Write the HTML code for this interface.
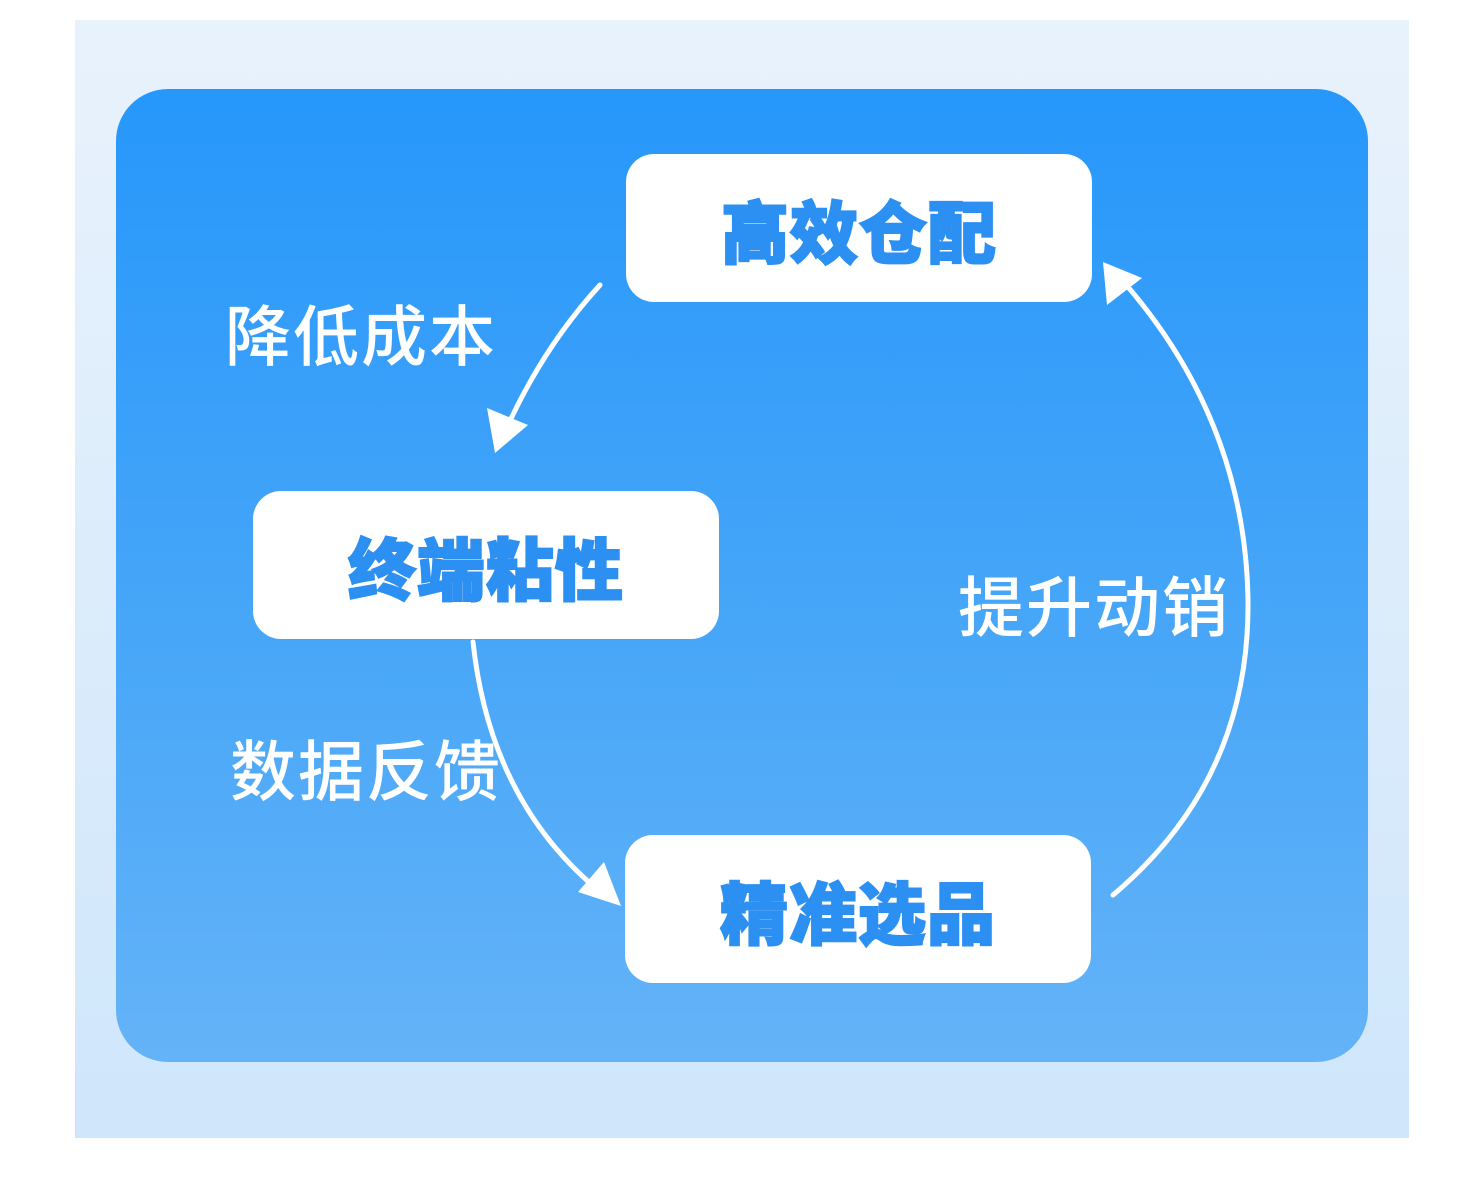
<!DOCTYPE html>
<html><head><meta charset="utf-8"><style>
html,body{margin:0;padding:0;background:#fff;}
body{width:1478px;height:1204px;position:relative;overflow:hidden;font-family:"Liberation Sans","Noto Sans CJK SC",sans-serif;}
.bg{position:absolute;left:75px;top:20px;width:1334px;height:1118px;background:linear-gradient(180deg,#e8f2fc 0%,#dcecfb 50%,#cfe6fb 100%);}
.panel{position:absolute;left:116px;top:89px;width:1252px;height:973px;border-radius:52px;background:linear-gradient(180deg,#2697fb 0%,#47a6f8 55%,#64b3f8 100%);}
.box{position:absolute;width:466px;height:148px;background:#fff;border-radius:28px;display:flex;align-items:center;justify-content:center;color:#2c8ff2;font-size:68px;font-weight:900;letter-spacing:1px;-webkit-text-stroke:2px #2c8ff2;}
.lbl{position:absolute;color:#fff;font-size:66px;letter-spacing:2px;font-weight:500;line-height:1;white-space:nowrap;}
svg{position:absolute;left:0;top:0;}
</style></head><body>
<div class="bg"></div>
<div class="panel"></div>
<svg width="1478" height="1204">
<g fill="none" stroke="#fff" stroke-width="5" stroke-linecap="round">
<path d="M600 285 Q545 345 508 425"/>
<path d="M473 642 Q490 800 598 890"/>
<path d="M1113 895 Q1250 780 1248 600 Q1245 420 1122 280"/>
</g>
<g fill="#fff">
<polygon points="495,453 487,408 528,425"/>
<polygon points="621,906 578,892 604,862"/>
<polygon points="1103,262 1142,278 1107,305"/>
</g>
</svg>
<div class="box" style="left:626px;top:154px;">高效仓配</div>
<div class="box" style="left:253px;top:491px;">终端粘性</div>
<div class="box" style="left:625px;top:835px;">精准选品</div>
<div class="lbl" style="left:225px;top:304px;">降低成本</div>
<div class="lbl" style="left:958px;top:575px;">提升动销</div>
<div class="lbl" style="left:230px;top:739px;">数据反馈</div>
</body></html>
